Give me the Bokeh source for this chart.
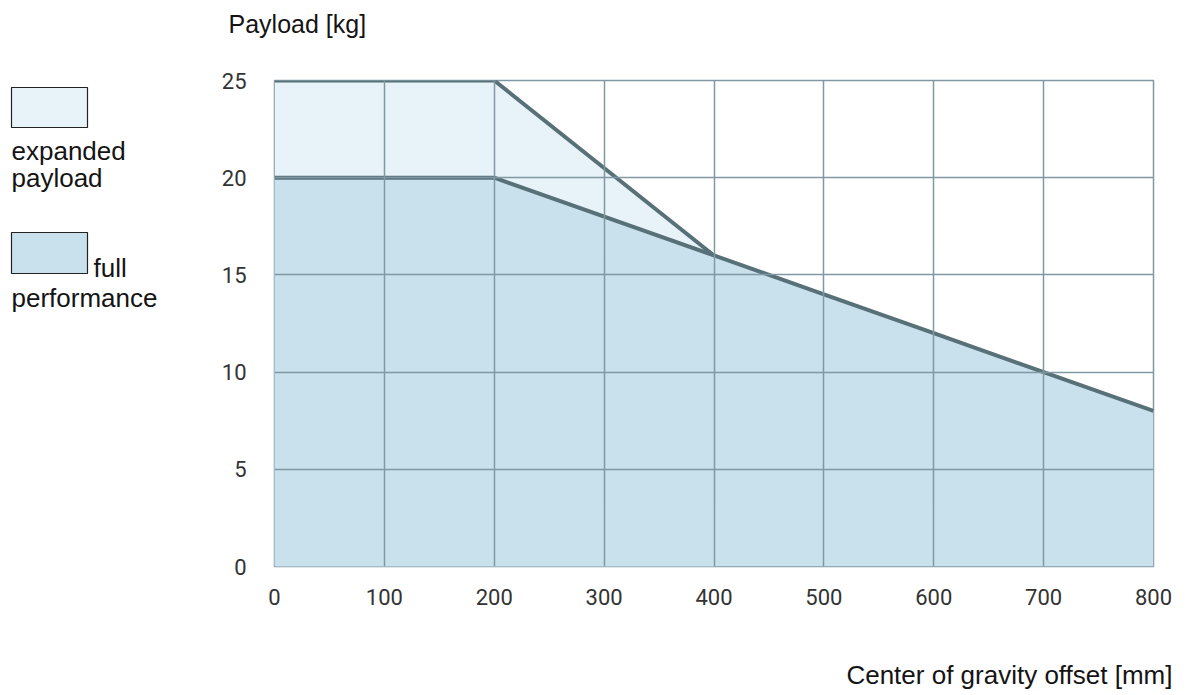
from bokeh.plotting import figure
from bokeh.models import FixedTicker, Title, Range1d
from bokeh.layouts import row
from bokeh.core.properties import value
from bokeh.embed import file_html
from bokeh.resources import INLINE

# Data
offset_mm = [0, 200, 400, 500, 600, 700, 800]
full_kg = [20, 20, 16, 14, 12, 10, 8]
exp_offset_mm = [0, 200, 400]
exp_kg = [25, 25, 16]
x_ticks = [0, 100, 200, 300, 400, 500, 600, 700, 800]
y_ticks = [0, 5, 10, 15, 20, 25]
legend_labels = ["expanded payload", "full performance"]
y_title = "Payload [kg]"
x_title = "Center of gravity offset [mm]"

LINE = "#587078"
GRID = "#7f98a2"
C_EXP = "#e7f2f9"
C_FULL = "#c9e1ed"
TXT = "#141414"
FONT = "Liberation Sans"

TOTAL_H = 694
LEG_W = 200
FR_TOP = 80
FR_BOT = 566

p = figure(frame_width=879, frame_height=FR_BOT - FR_TOP, x_range=(0, 800), y_range=(0, 25),
           output_backend="svg", toolbar_location=None,
           min_border_left=274 - LEG_W, min_border_top=FR_TOP, min_border_right=28,
           min_border_bottom=TOTAL_H - FR_BOT)
p.outline_line_color = GRID
p.outline_line_width = 1.5

# fills
p.varea(x=exp_offset_mm, y1=[0] * len(exp_offset_mm), y2=exp_kg, fill_color=C_EXP)
p.varea(x=offset_mm, y1=[0] * len(offset_mm), y2=full_kg, fill_color=C_FULL)

for ax in (p.xaxis[0], p.yaxis[0]):
    ax.axis_line_color = None
    ax.major_tick_line_color = None
    ax.minor_tick_line_color = None
    ax.major_label_text_font = "Roboto"
    ax.major_label_text_font_size = "22px"
    ax.major_label_text_color = "#333333"
p.xaxis.ticker = FixedTicker(ticks=x_ticks)
p.yaxis.ticker = FixedTicker(ticks=y_ticks)
p.xaxis.major_label_standoff = 16
p.yaxis.major_label_standoff = 22

p.xgrid.ticker = FixedTicker(ticks=x_ticks)
p.ygrid.ticker = FixedTicker(ticks=y_ticks)
for g in (p.xgrid[0], p.ygrid[0]):
    g.grid_line_color = GRID
    g.grid_line_width = 1.5
    g.level = "glyph"

p.line(exp_offset_mm, exp_kg, line_color=LINE, line_width=4)
p.line(offset_mm, full_kg, line_color=LINE, line_width=4)

# multi-line titles: the blank line acts as a spacer between text and frame
p.title = Title(text=y_title + "\n ", align="left", offset=-46, standoff=4,
                vertical_align="bottom", text_line_height=1.44,
                text_font=FONT, text_font_size="25px", text_font_style="normal",
                text_color=TXT)
p.add_layout(Title(text=" \n" + x_title, align="right", offset=-19,
                   standoff=2, vertical_align="top", text_line_height=1.7,
                   text_font=FONT, text_font_size="26px",
                   text_font_style="normal", text_color=TXT), "below")

# legend panel; its frame is aligned with the main frame (page y 80..566)
lg = figure(width=LEG_W, height=TOTAL_H, x_range=Range1d(0, LEG_W), y_range=Range1d(FR_BOT, FR_TOP),
            output_backend="svg", toolbar_location=None,
            x_axis_location=None, y_axis_location=None,
            min_border_left=0, min_border_right=0,
            min_border_top=FR_TOP, min_border_bottom=TOTAL_H - FR_BOT)
lg.outline_line_color = None
lg.xgrid.visible = False
lg.ygrid.visible = False
lg.quad(left=[11, 11], right=[87, 87], top=[87, 232], bottom=[127, 273],
        fill_color=[C_EXP, C_FULL], line_color="#222222", line_width=1.2)
w0 = legend_labels[0].split(" ")
w1 = legend_labels[1].split(" ")
lg.text(x=[11, 11, 93, 11], y=[150, 177, 267, 297], text=[w0[0], w0[1], w1[0], w1[1]],
        text_font=value(FONT), text_font_size="26px", text_color=TXT,
        text_baseline="alphabetic", text_align="left")

layout = row(lg, p, spacing=0)
open("out.html", "w").write(file_html(layout, INLINE))
